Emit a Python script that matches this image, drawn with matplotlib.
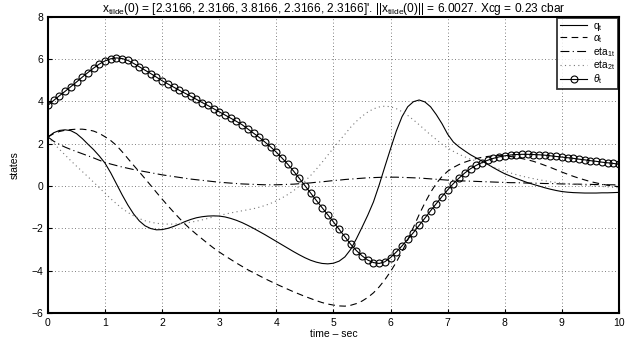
import numpy as np
import matplotlib
matplotlib.use("Agg")
import matplotlib.pyplot as plt

plt.rcParams['font.family'] = ['Liberation Sans', 'DejaVu Sans']
plt.rcParams['mathtext.fontset'] = 'custom'
plt.rcParams['mathtext.rm'] = 'Liberation Sans'
plt.rcParams['mathtext.it'] = 'Liberation Sans:italic'

# time axis, 0.1 s steps
t = np.linspace(0, 10, 101)

q_t = [2.32, 2.52, 2.63, 2.66, 2.62, 2.48, 2.25, 1.98, 1.72, 1.42,
       1.08, 0.62, 0.10, -0.42, -0.90, -1.32, -1.65, -1.88, -2.01, -2.07,
       -2.06, -2.00, -1.91, -1.80, -1.68, -1.58, -1.50, -1.45, -1.42, -1.41,
       -1.42, -1.46, -1.53, -1.62, -1.73, -1.86, -2.00, -2.15, -2.30, -2.46,
       -2.62, -2.78, -2.94, -3.10, -3.25, -3.39, -3.51, -3.60, -3.66, -3.68,
       -3.65, -3.55, -3.35, -3.00, -2.50, -1.95, -1.38, -0.75, 0.05, 0.92,
       1.77, 2.60, 3.28, 3.75, 3.99, 4.07, 3.98, 3.75, 3.38, 2.95,
       2.45, 2.08, 1.85, 1.66, 1.48, 1.33, 1.18, 1.03, 0.87, 0.72,
       0.58, 0.47, 0.36, 0.26, 0.16, 0.08, 0.00, -0.08, -0.15, -0.21,
       -0.26, -0.29, -0.31, -0.32, -0.33, -0.33, -0.33, -0.32, -0.32, -0.31,
       -0.30]

alpha_t = [2.32, 2.48, 2.58, 2.64, 2.67, 2.69, 2.69, 2.66, 2.60, 2.49,
           2.33, 2.15, 1.92, 1.62, 1.30, 0.98, 0.67, 0.35, 0.03, -0.30,
           -0.62, -0.93, -1.23, -1.52, -1.80, -2.05, -2.28, -2.50, -2.72, -2.93,
           -3.12, -3.30, -3.47, -3.64, -3.80, -3.96, -4.10, -4.24, -4.38, -4.51,
           -4.64, -4.76, -4.88, -5.00, -5.11, -5.22, -5.32, -5.42, -5.51, -5.58,
           -5.63, -5.67, -5.68, -5.64, -5.56, -5.44, -5.27, -5.05, -4.77, -4.43,
           -4.04, -3.60, -3.10, -2.55, -1.95, -1.35, -0.80, -0.30, 0.12, 0.45,
           0.70, 0.88, 1.02, 1.13, 1.22, 1.30, 1.36, 1.40, 1.43, 1.44,
           1.43, 1.40, 1.35, 1.30, 1.24, 1.17, 1.08, 0.98, 0.88, 0.77,
           0.66, 0.56, 0.46, 0.37, 0.29, 0.21, 0.15, 0.09, 0.04, 0.00,
           -0.03]

eta1_t = [2.32, 2.12, 1.97, 1.84, 1.73, 1.63, 1.53, 1.43, 1.33, 1.22,
          1.12, 1.04, 0.97, 0.90, 0.84, 0.78, 0.73, 0.68, 0.63, 0.58,
          0.53, 0.49, 0.45, 0.41, 0.37, 0.33, 0.30, 0.27, 0.24, 0.21,
          0.18, 0.16, 0.14, 0.12, 0.10, 0.09, 0.08, 0.07, 0.06, 0.06,
          0.06, 0.07, 0.08, 0.09, 0.11, 0.13, 0.15, 0.18, 0.20, 0.23,
          0.26, 0.28, 0.31, 0.33, 0.35, 0.37, 0.39, 0.40, 0.41, 0.42,
          0.42, 0.42, 0.41, 0.40, 0.39, 0.38, 0.36, 0.34, 0.32, 0.30,
          0.28, 0.27, 0.25, 0.24, 0.23, 0.22, 0.21, 0.20, 0.19, 0.18,
          0.17, 0.16, 0.16, 0.15, 0.14, 0.14, 0.13, 0.12, 0.12, 0.11,
          0.10, 0.10, 0.09, 0.09, 0.08, 0.08, 0.07, 0.07, 0.06, 0.06,
          0.05]

eta2_t = [2.32, 2.02, 1.74, 1.47, 1.20, 0.94, 0.69, 0.44, 0.18, -0.08,
          -0.34, -0.60, -0.84, -1.06, -1.25, -1.41, -1.54, -1.64, -1.71, -1.76,
          -1.79, -1.80, -1.80, -1.78, -1.75, -1.71, -1.66, -1.60, -1.53, -1.46,
          -1.39, -1.33, -1.27, -1.22, -1.17, -1.12, -1.07, -1.00, -0.92, -0.82,
          -0.70, -0.56, -0.40, -0.22, -0.01, 0.23, 0.50, 0.80, 1.12, 1.46,
          1.80, 2.13, 2.45, 2.78, 3.06, 3.30, 3.50, 3.65, 3.74, 3.78,
          3.75, 3.66, 3.52, 3.34, 3.13, 2.90, 2.66, 2.42, 2.20, 1.98,
          1.80, 1.64, 1.50, 1.38, 1.27, 1.18, 1.09, 1.00, 0.90, 0.80,
          0.71, 0.62, 0.54, 0.47, 0.41, 0.35, 0.30, 0.25, 0.20, 0.17,
          0.14, 0.11, 0.08, 0.06, 0.04, 0.02, 0.00, -0.02, -0.04, -0.06,
          -0.08]

theta_t = [3.82, 4.05, 4.27, 4.48, 4.70, 4.92, 5.15, 5.37, 5.58, 5.77,
           5.92, 6.02, 6.06, 6.03, 5.94, 5.80, 5.64, 5.48, 5.32, 5.15,
           4.98, 4.83, 4.68, 4.53, 4.39, 4.25, 4.10, 3.95, 3.81, 3.66,
           3.51, 3.36, 3.21, 3.06, 2.90, 2.70, 2.50, 2.30, 2.08, 1.85,
           1.60, 1.32, 1.03, 0.71, 0.37, 0.02, -0.33, -0.68, -1.02, -1.36,
           -1.70, -2.05, -2.40, -2.75, -3.05, -3.30, -3.50, -3.62, -3.66, -3.58,
           -3.38, -3.12, -2.83, -2.52, -2.20, -1.86, -1.52, -1.17, -0.83, -0.50,
           -0.18, 0.12, 0.38, 0.62, 0.82, 0.98, 1.11, 1.22, 1.31, 1.38,
           1.43, 1.47, 1.49, 1.50, 1.50, 1.49, 1.48, 1.46, 1.43, 1.40,
           1.37, 1.34, 1.31, 1.27, 1.24, 1.20, 1.17, 1.13, 1.10, 1.07,
           1.03]

title = (r"x$_{\mathrm{tilde}}$(0) = [2.3166, 2.3166, 3.8166, 2.3166, 2.3166]'. "
         r"||x$_{\mathrm{tilde}}$(0)|| = 6.0027. Xcg = 0.23 cbar")

fig = plt.figure(figsize=(6.31, 3.45), dpi=100)
ax = fig.add_axes([0.076, 0.093, 0.905, 0.858])

ax.plot(t, q_t, color='black', lw=0.8, label=r'q$_\mathrm{t}$')
ax.plot(t, alpha_t, color='black', lw=0.8, ls=(0, (6, 4)), label=r'$\alpha_\mathrm{t}$')
ax.plot(t, eta1_t, color='black', lw=0.8, ls=(0, (8, 3, 1, 3)), label=r'eta$_\mathrm{1t}$')
ax.plot(t, eta2_t, color='#777777', lw=0.8, ls=(0, (1, 3)), label=r'eta$_\mathrm{2t}$')
ax.plot(t, theta_t, color='black', lw=0.8, marker='o', ms=5, mfc='none',
        mec='black', mew=0.8, label=r'$\theta_\mathrm{t}$')

ax.set_xlim(0, 10)
ax.set_ylim(-6, 8)
ax.set_xticks(range(0, 11))
ax.set_yticks(range(-6, 9, 2))
ax.grid(True, color='#555555', ls=(0, (1, 3)), lw=0.6)
ax.tick_params(direction='in', length=3, labelsize=7.5, width=0.8)
for s in ax.spines.values():
    s.set_linewidth(1.5)

ax.set_xlabel('time – sec', fontsize=7.5, labelpad=1)
ax.set_ylabel('states', fontsize=7.5, labelpad=8)
ax.set_title(title, fontsize=8.6, pad=3)

leg = ax.legend(loc='upper right', fontsize=7.3, frameon=True, fancybox=False,
                edgecolor='black', borderpad=0.3, labelspacing=0.0,
                handlelength=2.6, handletextpad=0.6, borderaxespad=0.1)
leg.get_frame().set_linewidth(1.3)

fig.savefig('out.png', dpi=100)
